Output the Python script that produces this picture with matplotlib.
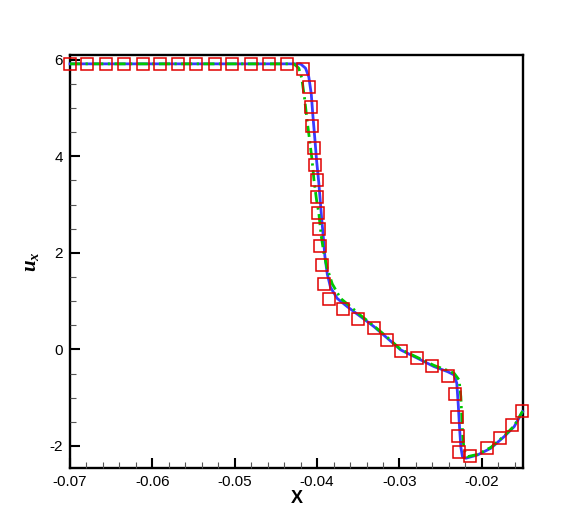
import numpy as np
import matplotlib
matplotlib.use("Agg")
import matplotlib.pyplot as plt
from matplotlib.ticker import MultipleLocator

plt.rcParams['font.family'] = ['Liberation Sans', 'DejaVu Sans']
plt.rcParams['mathtext.fontset'] = 'custom'
plt.rcParams['mathtext.it'] = 'Liberation Serif:bold:italic'
plt.rcParams['mathtext.rm'] = 'Liberation Serif:bold'

# solid blue curve
blue_x = [-0.0700, -0.04202, -0.04141, -0.04101, -0.04071, -0.04052, -0.04028, -0.04007,
          -0.03979, -0.03950, -0.03926, -0.03906, -0.03877, -0.03837, -0.03756, -0.03630,
          -0.03472, -0.03310, -0.03147, -0.02985, -0.02782, -0.02580, -0.02417, -0.02337,
          -0.02304, -0.02286, -0.02271, -0.02255, -0.02235, -0.02195, -0.02052, -0.01891,
          -0.01729, -0.01607, -0.01505]
blue_y = [5.917, 5.917, 5.828, 5.648, 5.295, 4.860, 4.377, 3.927,
          3.445, 2.823, 2.352, 1.938, 1.565, 1.285, 1.057, 0.881,
          0.680, 0.473, 0.232, -0.010, -0.182, -0.356, -0.460, -0.528,
          -0.701, -1.150, -1.606, -2.021, -2.222, -2.255, -2.187, -2.048,
          -1.807, -1.600, -1.289]

# green dash-dot curve
green_x = [-0.0700, -0.04283, -0.04223, -0.04187, -0.04153, -0.04120, -0.04089, -0.04064,
           -0.04038, -0.04007, -0.03979, -0.03952, -0.03918, -0.03879, -0.03816, -0.03715,
           -0.03594, -0.03472, -0.03310, -0.03147, -0.02985, -0.02782, -0.02580, -0.02417,
           -0.02337, -0.02276, -0.02255, -0.02243, -0.02231, -0.02215, -0.02174, -0.02052,
           -0.01891, -0.01729, -0.01607, -0.01505]
green_y = [5.917, 5.917, 5.828, 5.627, 5.212, 4.721, 4.307, 3.963,
           3.513, 3.098, 2.823, 2.373, 1.994, 1.689, 1.358, 1.057,
           0.887, 0.705, 0.487, 0.249, 0.000, -0.166, -0.332, -0.435,
           -0.493, -0.632, -0.978, -1.393, -1.807, -2.083, -2.222, -2.176,
           -2.031, -1.793, -1.585, -1.279]

# red square symbols
sq_x = [-0.0700, -0.0679, -0.0656, -0.0634, -0.0612, -0.0591, -0.0569, -0.0547,
        -0.0524, -0.0503, -0.0480, -0.0458, -0.0436,
        -0.04169, -0.04101, -0.04077, -0.04056, -0.04032, -0.04023, -0.04007, -0.03999,
        -0.03989, -0.03979, -0.03962, -0.03938, -0.03918, -0.03853, -0.03682, -0.03500,
        -0.03314, -0.03150, -0.02985, -0.02788, -0.02602, -0.02411, -0.02326, -0.02304,
        -0.02290, -0.02274, -0.02142, -0.01942, -0.01777, -0.01639, -0.01517]
sq_y = [5.917] * 13 + [
        5.803, 5.440, 5.030, 4.632, 4.170, 3.830, 3.507, 3.167,
        2.835, 2.497, 2.135, 1.751, 1.364, 1.047, 0.833, 0.632,
        0.439, 0.203, -0.025, -0.170, -0.352, -0.543, -0.922, -1.393,
        -1.787, -2.135, -2.201, -2.052, -1.840, -1.569, -1.269]

fig = plt.figure(figsize=(5.86, 5.19), dpi=100)
ax = fig.add_axes([0.1195, 0.098, 0.773, 0.796])

ax.plot(blue_x, blue_y, color='#3a3aff', lw=2.0, zorder=2, clip_on=False)
ax.plot(green_x, green_y, color='#00c800', lw=2.0, linestyle=(0, (4, 1.6, 0.8, 1.6)),
        zorder=3, clip_on=False)
ax.plot(sq_x, sq_y, linestyle='none', marker='s', markersize=8.2, clip_on=False,
        markerfacecolor='none', markeredgecolor='#e00000', markeredgewidth=1.1, zorder=4)

ax.set_xlim(-0.07, -0.015)
ax.set_ylim(-2.46, 6.1)
ax.xaxis.set_major_locator(MultipleLocator(0.01))
ax.xaxis.set_minor_locator(MultipleLocator(0.002))
ax.yaxis.set_major_locator(MultipleLocator(2))
ax.yaxis.set_minor_locator(MultipleLocator(0.5))
ax.set_xticks([-0.07, -0.06, -0.05, -0.04, -0.03, -0.02])
ax.set_xticklabels(['-0.07', '-0.06', '-0.05', '-0.04', '-0.03', '-0.02'])
ax.set_yticks([-2, 0, 2, 4, 6])
ax.set_yticklabels(['-2', '0', '2', '4', '6'])

ax.tick_params(which='both', direction='in', top=False, right=False, labelsize=11)
ax.tick_params(which='major', length=7.5, width=1.5, pad=5)
ax.tick_params(which='minor', length=4.3, width=0.8, color='#555555')
for s in ax.spines.values():
    s.set_linewidth(1.7)
    s.set_zorder(1)

ax.set_xlabel('X', fontsize=13, fontweight='bold', labelpad=1)
ax.set_ylabel(r'$u_x$', fontsize=15, labelpad=6)

fig.savefig('out.png', dpi=100)
